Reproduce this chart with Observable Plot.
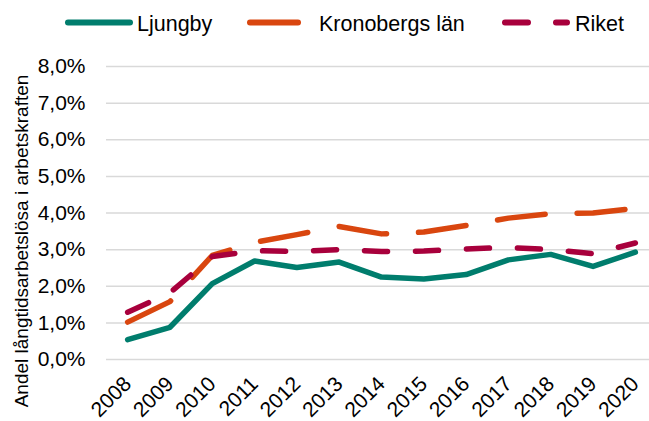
<!DOCTYPE html>
<html>
<head>
<meta charset="utf-8">
<script src="https://cdn.jsdelivr.net/npm/d3@7"></script>
<script src="https://cdn.jsdelivr.net/npm/@observablehq/plot@0.6"></script>
<style>
  html, body { margin: 0; padding: 0; background: #fff; }
  body { font-family: "Liberation Sans", Arial, sans-serif; width: 649px; height: 421px; overflow: hidden; }
  #legend { height: 45px; }
</style>
</head>
<body>
<div id="legend"></div>
<div id="chart"></div>
<script>
// ---- data ----
const years = [2008, 2009, 2010, 2011, 2012, 2013, 2014, 2015, 2016, 2017, 2018, 2019, 2020];
const ljungby   = [0.54, 0.88, 2.07, 2.69, 2.51, 2.66, 2.25, 2.20, 2.32, 2.72, 2.87, 2.54, 2.93];
const kronoberg = [1.02, 1.58, 2.84, 3.20, 3.41, 3.63, 3.43, 3.48, 3.66, 3.86, 3.98, 4.00, 4.13];
const riket     = [1.29, 1.82, 2.81, 2.97, 2.95, 3.00, 2.95, 2.96, 3.02, 3.06, 3.00, 2.89, 3.18];
const seriesNames = ["Ljungby", "Kronobergs län", "Riket"];
const yTicks = [0, 1, 2, 3, 4, 5, 6, 7, 8];
const yTitle = "Andel långtidsarbetslösa i arbetskraften";

// ---- styles ----
const seriesColors = ["#007d6d", "#d9460f", "#a8003c"];
const seriesDash = [null, "48,32", "23,28"];
const font = '"Liberation Sans", Arial, sans-serif';

const seriesValues = [ljungby, kronoberg, riket];
const rows = seriesNames.map((name, i) => years.map((year, j) => ({series: name, year, value: seriesValues[i][j]})));

// ---- legend ----
const legendPos = [
  {x1: 68, x2: 130, tx: 137},
  {x1: 250, x2: 318, tx: 319},
  {x1: 505, x2: 567, tx: 575}
];
const lsvg = d3.select("#legend").append("svg").attr("width", 649).attr("height", 45);
seriesNames.forEach((name, i) => {
  const p = legendPos[i];
  const line = lsvg.append("line")
    .attr("x1", p.x1).attr("x2", p.x2).attr("y1", 22.5).attr("y2", 22.5)
    .attr("stroke", seriesColors[i]).attr("stroke-width", 6).attr("stroke-linecap", "round");
  if (seriesDash[i]) line.attr("stroke-dasharray", seriesDash[i]);
  lsvg.append("text").attr("x", p.tx).attr("y", 31)
    .attr("font-family", font).attr("font-size", 21.5).attr("fill", "#000").text(name);
});

// ---- chart ----
const chart = Plot.plot({
  width: 649,
  height: 376,
  marginLeft: 106,
  marginRight: 0,
  marginTop: 21,
  marginBottom: 62,
  style: {fontFamily: font, fontSize: "21px", color: "#000", background: "#fff", overflow: "visible"},
  x: {
    type: "linear",
    domain: [2007.5, 2020.5],
    range: [106, 656],
    ticks: years,
    tickFormat: d => String(d),
    tickRotate: -45,
    tickSize: 0,
    tickPadding: 21,
    label: null
  },
  y: {
    domain: [0, 8],
    ticks: yTicks,
    tickFormat: v => v.toFixed(1).replace(".", ",") + "%",
    tickSize: 0,
    tickPadding: 21,
    label: null
  },
  marks: [
    Plot.ruleY(yTicks, {stroke: "#d9d9d9", strokeWidth: 1.5}),
    ...rows.map((r, i) => Plot.lineY(r, {
      x: "year", y: "value",
      stroke: seriesColors[i],
      strokeWidth: 5.5,
      strokeLinecap: "round",
      strokeLinejoin: "round",
      strokeDasharray: seriesDash[i] || undefined
    })),
    Plot.text([yTitle], {
      text: d => d,
      frameAnchor: "left",
      textAnchor: "middle",
      rotate: -90,
      dx: -85,
      dy: 28,
      fontSize: 19,
      fill: "#000"
    })
  ]
});
document.getElementById("chart").appendChild(chart);
</script>
</body>
</html>
